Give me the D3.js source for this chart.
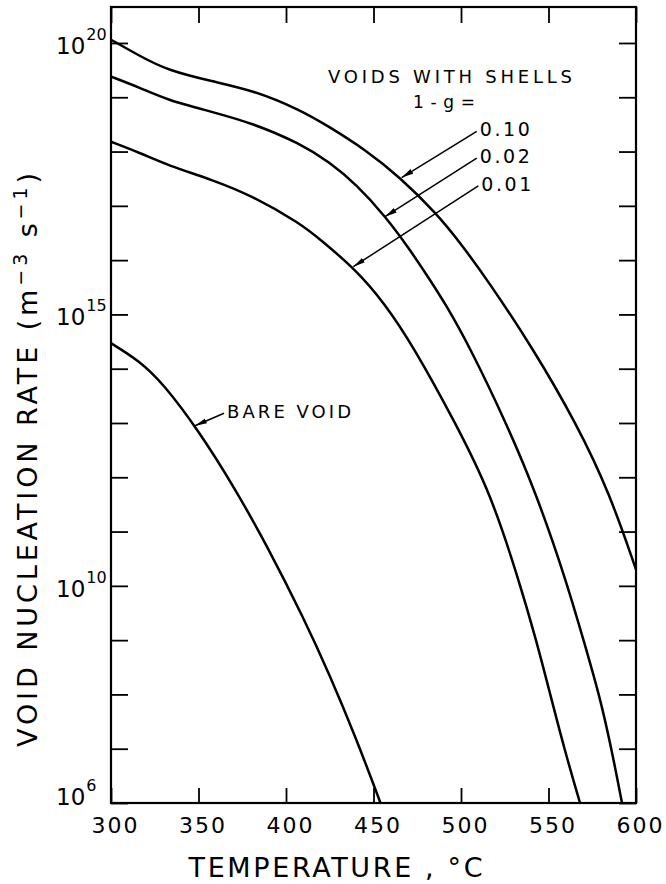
<!DOCTYPE html>
<html>
<head>
<meta charset="utf-8">
<script src="https://cdn.jsdelivr.net/npm/d3@7"></script>
<style>
  body { margin: 0; background: #fff; }
  text { font-family: "DejaVu Sans", sans-serif; fill: #000; }
</style>
</head>
<body>
<div id="chart"></div>
<script>
// Readings: temperature (°C) and log10 of the nucleation rate (m^-3 s^-1)
const temp010 = [300, 317, 332, 358, 381, 408, 425, 445, 465, 486, 500, 515, 541, 566, 585, 600];
const log010  = [20.06, 19.75, 19.50, 19.29, 19.13, 18.77, 18.45, 18.04, 17.53, 16.86, 16.30, 15.64, 14.38, 12.99, 11.70, 10.30];

const temp002 = [300, 317, 332, 358, 381, 408, 425, 440, 457, 470, 482, 491, 505, 526, 543, 560, 570, 579, 586, 592];
const log002  = [19.38, 19.17, 18.95, 18.73, 18.52, 18.15, 17.80, 17.40, 16.80, 16.23, 15.65, 15.20, 14.40, 12.99, 11.70, 10.11, 9.0, 8.0, 7.0, 6.0];

const temp001 = [300, 317, 332, 358, 381, 408, 420, 440, 456, 473, 497, 517, 533, 543, 551, 559, 568];
const log001  = [18.18, 17.97, 17.75, 17.48, 17.18, 16.68, 16.37, 15.82, 15.22, 14.40, 12.99, 11.70, 10.11, 9.0, 8.0, 7.0, 6.0];

const tempBare = [300, 316, 330, 350, 370, 390, 410, 425, 440, 454];
const logBare  = [14.47, 14.15, 13.72, 12.86, 11.84, 10.69, 9.41, 8.36, 7.20, 6.0];

const xTicks = [300, 350, 400, 450, 500, 550, 600];
const yTicks = d3.range(6, 21).map(e => 10 ** e);
const yLabels = [6, 10, 15, 20];
const yMax = 4.6e20;   // top of the frame

// callouts: arrow from label (t0, l0) to curve (t1, l1)
const callouts = [
  { text: "0.10", t0: 509.0, l0: 18.37, t1: 466.1, l1: 17.52 },
  { text: "0.02", t0: 509.0, l0: 17.88, t1: 456.6, l1: 16.80 },
  { text: "0.01", t0: 509.9, l0: 17.37, t1: 438.5, l1: 15.88 },
  { text: "BARE VOID", t0: 364.6, l0: 13.18, t1: 348.0, l1: 12.95 }
];

const series = [
  { t: temp010, l: log010 },
  { t: temp002, l: log002 },
  { t: temp001, l: log001 },
  { t: tempBare, l: logBare }
];

const W = 666, H = 884;
const margin = { top: 7, right: 30, bottom: 81, left: 111 };
const width = W - margin.left - margin.right;
const height = H - margin.top - margin.bottom;

const svg = d3.select("#chart")
  .append("svg")
  .attr("width", W)
  .attr("height", H)
  .append("g")
  .attr("transform", `translate(${margin.left},${margin.top})`);

const x = d3.scaleLinear().domain([300, 600]).range([0, width]);
const y = d3.scaleLog().domain([1e6, yMax]).range([height, 0]);

// frame
svg.append("rect")
  .attr("width", width)
  .attr("height", height)
  .attr("fill", "none")
  .attr("stroke", "#000")
  .attr("stroke-width", 2.2);

// axes, ticks pointing inward
const bottom = svg.append("g")
  .attr("transform", `translate(0,${height})`)
  .call(d3.axisBottom(x).tickValues(xTicks).tickSizeInner(-15).tickSizeOuter(0).tickPadding(14));

bottom.selectAll("text")
  .attr("font-size", 22)
  .attr("font-family", "DejaVu Sans")
  .attr("letter-spacing", 2)
  .attr("dx", 4);

svg.append("g")
  .call(d3.axisTop(x).tickValues(xTicks).tickSizeInner(-16).tickSizeOuter(0).tickFormat(""));

svg.append("g")
  .call(d3.axisLeft(y).tickValues(yTicks).tickSizeInner(-17).tickSizeOuter(0).tickFormat(""));

svg.append("g")
  .attr("transform", `translate(${width},0)`)
  .call(d3.axisRight(y).tickValues(yTicks).tickSizeInner(-17).tickSizeOuter(0).tickFormat(""));

svg.selectAll(".domain").remove();
svg.selectAll(".tick line").attr("stroke", "#000").attr("stroke-width", 1.8);

// y labels as 10 with superscript exponent
const ylab = svg.append("g")
  .selectAll("text")
  .data(yLabels)
  .join("text")
  .attr("x", -55)
  .attr("y", d => Math.min(y(10 ** d) + 11, height + 2))
  .attr("font-size", 23);

ylab.append("tspan").text("10");
ylab.append("tspan")
  .attr("font-size", 16)
  .attr("dx", 1)
  .attr("dy", -14)
  .text(d => d);

// curves (smoothed through the readings)
const line = d3.line()
  .x(d => x(d[0]))
  .y(d => y(10 ** d[1]))
  .curve(d3.curveBasis);

svg.append("g")
  .selectAll("path")
  .data(series)
  .join("path")
  .attr("d", s => line(s.t.map((t, i) => [t, s.l[i]])))
  .attr("fill", "none")
  .attr("stroke", "#000")
  .attr("stroke-width", 2.5);

// arrowheads
svg.append("defs")
  .append("marker")
  .attr("id", "head")
  .attr("markerUnits", "userSpaceOnUse")
  .attr("viewBox", "0 0 12 6")
  .attr("refX", 12)
  .attr("refY", 3)
  .attr("markerWidth", 12)
  .attr("markerHeight", 6)
  .attr("orient", "auto")
  .append("path")
  .attr("d", "M0,0.4 L12,3 L0,5.6 Z")
  .attr("fill", "#000");

const call = svg.append("g");

call.selectAll("line")
  .data(callouts)
  .join("line")
  .attr("x1", d => x(d.t0))
  .attr("y1", d => y(10 ** d.l0))
  .attr("x2", d => x(d.t1))
  .attr("y2", d => y(10 ** d.l1))
  .attr("stroke", "#000")
  .attr("stroke-width", 1.5)
  .attr("marker-end", "url(#head)");

call.selectAll("text")
  .data(callouts)
  .join("text")
  .attr("x", d => x(d.t0) + 3)
  .attr("y", d => y(10 ** d.l0) + 5)
  .attr("font-size", d => d.text === "BARE VOID" ? 18 : 19)
  .attr("textLength", d => d.text === "BARE VOID" ? 124 : 50)
  .attr("lengthAdjust", "spacing")
  .text(d => d.text === "BARE VOID" ? "BARE  VOID" : d.text);

// legend heading
svg.append("text")
  .attr("x", x(424))
  .attr("y", y(10 ** 19.26))
  .attr("font-size", 18)
  .attr("textLength", 244)
  .attr("lengthAdjust", "spacing")
  .text("VOIDS WITH SHELLS");

svg.append("text")
  .attr("x", x(472.6))
  .attr("y", y(10 ** 18.80))
  .attr("font-size", 17)
  .attr("textLength", 62)
  .attr("lengthAdjust", "spacing")
  .text("1 - g =");

// axis titles
svg.append("text")
  .attr("x", x(450) - 38)
  .attr("y", height + 74)
  .attr("font-size", 27)
  .attr("text-anchor", "middle")
  .attr("textLength", 294)
  .attr("lengthAdjust", "spacing")
  .text("TEMPERATURE , °C");

const yt = svg.append("text")
  .attr("transform", `translate(${37 - margin.left},${460 - margin.top}) rotate(-90)`)
  .attr("font-size", 27)
  .attr("text-anchor", "middle")
  .attr("textLength", 574)
  .attr("lengthAdjust", "spacing");

yt.append("tspan").text("VOID  NUCLEATION  RATE  (m");
yt.append("tspan").attr("font-size", 19).attr("dy", -10).text("−3");
yt.append("tspan").attr("dy", 10).text(" s");
yt.append("tspan").attr("font-size", 19).attr("dy", -10).text("−1");
yt.append("tspan").attr("dy", 10).text(")");
</script>
</body>
</html>
